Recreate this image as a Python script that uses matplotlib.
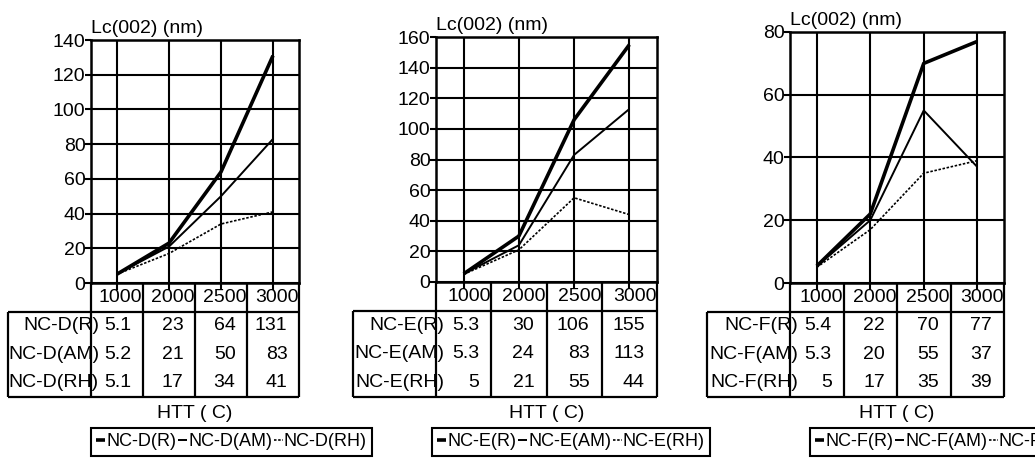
import matplotlib
matplotlib.use("Agg")
import matplotlib.pyplot as plt

plt.rcParams['font.family'] = ['Liberation Sans', 'DejaVu Sans']

# data
htt = ["1000", "2000", "2500", "3000"]

d_names = ["NC-D(R)", "NC-D(AM)", "NC-D(RH)"]
d_r = [5.1, 23, 64, 131]
d_am = [5.2, 21, 50, 83]
d_rh = [5.1, 17, 34, 41]

e_names = ["NC-E(R)", "NC-E(AM)", "NC-E(RH)"]
e_r = [5.3, 30, 106, 155]
e_am = [5.3, 24, 83, 113]
e_rh = [5, 21, 55, 44]

f_names = ["NC-F(R)", "NC-F(AM)", "NC-F(RH)"]
f_r = [5.4, 22, 70, 77]
f_am = [5.3, 20, 55, 37]
f_rh = [5, 17, 35, 39]

ymax = [140, 160, 80]

W, H = 1035, 458
fig = plt.figure(figsize=(W / 100, H / 100), dpi=100)

# pixel boxes of the plot areas: left, right, top, bottom
boxes = [(91, 299, 40, 283), (436, 657, 37, 282), (790, 1004, 32, 283)]
legend_x = [91, 432, 810]
tab_bottom = 397
lab_w = 83
fs = 14

panels = [
    (d_names, [d_r, d_am, d_rh]),
    (e_names, [e_r, e_am, e_rh]),
    (f_names, [f_r, f_am, f_rh]),
]
styles = [dict(lw=2.6, ls='-'), dict(lw=1.4, ls='-'), dict(lw=1.2, ls=(0, (1.5, 1)))]


def show(v):
    return f"{v:g}"


for k, (names, series) in enumerate(panels):
    l, r, t, b = boxes[k]
    ax = fig.add_axes([l / W, 1 - b / H, (r - l) / W, (b - t) / H])
    x = list(range(len(htt)))
    handles = []
    for name, vals, st in zip(names, series, styles):
        h, = ax.plot(x, vals, color='black', label=name, solid_capstyle='butt', **st)
        handles.append(h)
    ax.set_xlim(-0.5, len(htt) - 0.5)
    ax.set_ylim(0, ymax[k])
    ax.set_yticks(range(0, ymax[k] + 1, 20))
    ax.set_xticks(x)
    ax.set_xticklabels([])
    ax.grid(True, color='black', lw=1.5)
    ax.tick_params(axis='y', length=4, width=1.5, pad=0, labelsize=fs)
    ax.tick_params(axis='x', length=5, width=1.5)
    for sp in ax.spines.values():
        sp.set_linewidth(1.8)
    ax.annotate("Lc(002) (nm)", xy=(0, 1), xycoords='axes fraction',
                xytext=(0, 3), textcoords='offset pixels',
                ha='left', va='bottom', fontsize=fs)

    # data table below the plot
    colw = (r - l) / len(htt)
    x_left = -0.5 - lab_w / colw
    tx = fig.add_axes([(l - lab_w) / W, 1 - tab_bottom / H,
                       (r - l + lab_w) / W, (tab_bottom - b) / H])
    tx.set_xlim(x_left, len(htt) - 0.5)
    tx.set_ylim(0, 4)
    tx.axis('off')
    lw = 1.6
    edges = [i - 0.5 for i in range(len(htt) + 1)]
    tx.vlines(edges, 0, 4, color='black', lw=lw, clip_on=False)
    tx.vlines([x_left], 0, 3, color='black', lw=lw, clip_on=False)
    tx.hlines([0, 3], x_left, len(htt) - 0.5, color='black', lw=lw, clip_on=False)
    for i, c in enumerate(htt):
        tx.text(i + 0.49, 3.5, c, ha='right', va='center', fontsize=fs)
    for j, (name, vals) in enumerate(zip(names, series)):
        yy = 2.5 - j
        tx.text(-0.5 + 8 / colw, yy, name, ha='right', va='center', fontsize=fs)
        for i, v in enumerate(vals):
            tx.text(i + 0.28, yy, show(v), ha='right', va='center', fontsize=fs)

    fig.text((l + r) / 2 / W, 1 - 413 / H, "HTT ( C)", ha='center', va='center', fontsize=fs)

    leg = fig.legend(handles=handles, loc='upper left',
                     bbox_to_anchor=(legend_x[k] / W, 1 - 428 / H),
                     ncol=3, fontsize=13, handlelength=0.5, handletextpad=0.05,
                     columnspacing=0.1, borderpad=0.3, borderaxespad=0,
                     fancybox=False, framealpha=1)
    leg.get_frame().set_edgecolor('black')
    leg.get_frame().set_linewidth(1.5)

fig.savefig("out.png", dpi=100)
